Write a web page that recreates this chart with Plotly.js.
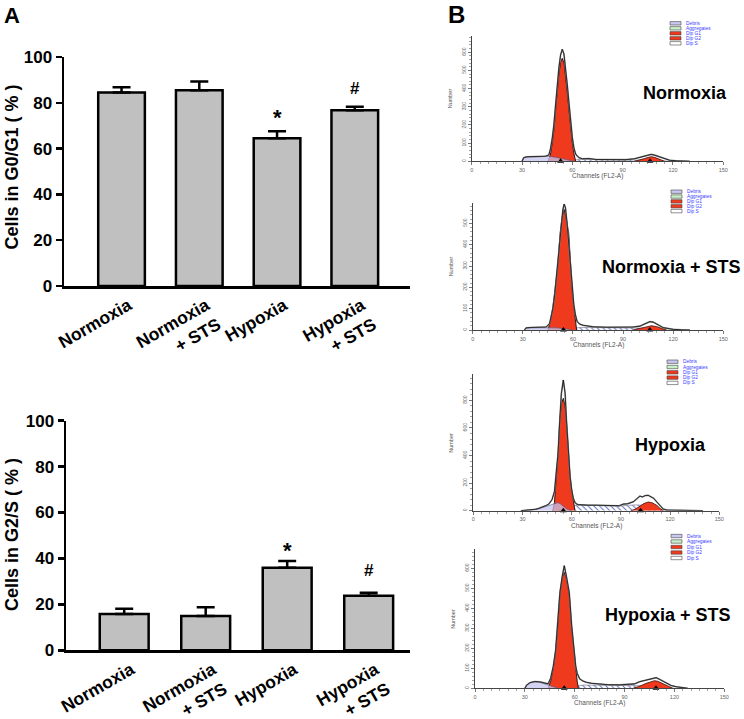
<!DOCTYPE html>
<html><head><meta charset="utf-8">
<script src="https://cdn.plot.ly/plotly-3.0.1.min.js"></script>
<style>html,body{margin:0;padding:0;background:#fff}#chart{width:744px;height:719px}</style>
</head><body><div id="chart"></div>
<script>
// ---------- Panel A data ----------
const categories = ['Normoxia', 'Normoxia<br>+ STS', 'Hypoxia', 'Hypoxia<br>+ STS'];
const g0g1Mean = [84.5, 85.5, 64.5, 76.8];
const g0g1Err  = [2.3, 3.8, 3.1, 1.5];
const g0g1Mark = ['', '', '*', '#'];
const g2sMean  = [15.8, 14.9, 36.0, 23.8];
const g2sErr   = [2.3, 3.8, 2.9, 1.3];
const g2sMark  = ['', '', '*', '#'];

// ---------- Panel B data (channel, count) ----------
const histTitles = ['Normoxia', 'Normoxia + STS', 'Hypoxia', 'Hypoxia + STS'];
const legendLabels = ['Debris', 'Aggregates', 'Dip G1', 'Dip G2', 'Dip S'];

// Normoxia
const n_totX = [30,31,33,36,40,44,46,47,48,49,50,51,52,53,54,55,56,57,58,59,60,61,62,63,64,66,70,74,80,86,92,97,100,103,105,107,109,111,113,115,118,122,126,130];
const n_totY = [0,20,25,26,27,28,35,70,125,200,310,420,515,585,616,590,515,420,320,215,130,70,40,28,20,14,15,10,9,8,9,14,20,28,34,38,34,28,20,12,6,3,1,0];
const n_g1X = [45.5,47,48,49,50,51,52,53,54,55,56,57,58,59,60,61,62];
const n_g1Y = [0,40,100,170,282,390,480,545,567,545,470,380,282,180,100,40,0];
const n_g2X = [97,100,103,105,107,109,111,113,115];
const n_g2Y = [0,6,15,21,25,22,15,7,0];
const n_debX = [30,31,32,35,40,44,46,50,54,58,61];
const n_debY = [0,18,24,25,26,27,27,22,15,7,0];
const n_sX = [58,62,66,70,80,90,97,102,106,110,114,118];
const n_sY = [0,8,10,10,9,8,8,7,6,5,3,0];
const n_peaks = [53, 106.3];

// Normoxia + STS
const ns_totX = [31,32,35,40,44,46,47,48,49,50,51,52,53,54,54.7,55.5,56.5,57.5,58.5,59.5,60.5,61.5,62.5,64,66,68,72,80,90,96,100,103,106,108,110,112,114,117,120,125,130];
const ns_totY = [0,10,12,13,14,30,60,100,160,240,330,420,500,565,590,575,500,400,300,200,120,70,40,28,22,20,15,13,12,14,18,28,39,37,30,20,11,6,3,1,0];
const ns_g1X = [45,46.5,48,49.5,50.7,52.3,53.5,54.7,55.8,57.5,58.6,59.6,60.6,61.5,62.2];
const ns_g1Y = [0,40,109,200,281,453,530,566,530,453,281,180,109,40,0];
const ns_g2X = [96,100,103,107,110,113,116];
const ns_g2Y = [0,6,14,20,16,8,0];
const ns_debX = [31,32,35,40,45,50,55,60];
const ns_debY = [0,9,11,11,12,10,6,0];
const ns_sX = [60,62,66,70,80,90,98,104,110,116];
const ns_sY = [0,10,12,12,11,10,9,8,5,0];
const ns_peaks = [54.3, 106];

// Hypoxia
const h_totX = [29,32,35,38,40,42,44,46,48,49.5,50.5,51.7,52.7,53.7,54.9,56,56.8,57.9,59,60,61,62,63,64,66,70,75,80,85,89,91.5,94,97.6,100,101.6,103,105,106.7,108.7,110,111.8,114,115.8,118,122,128,135,140];
const h_totY = [0,3,6,10,17,25,35,48,80,140,250,420,650,850,948,850,660,420,250,150,90,60,48,44,42,40,40,38,38,36,48,50,65,90,106,100,110,111,101,90,65,35,12,5,3,2,1,0];
const h_g1X = [48.4,49.5,50,51,51.7,52.7,53.8,54.9,56,56.7,57.9,59,60,61,62];
const h_g1Y = [0,60,150,300,410,658,780,815,760,658,410,250,150,60,0];
const h_g2X = [96,98.6,101,104,106.7,109,112,114,116];
const h_g2Y = [0,10,28,52,63,58,38,15,0];
const h_debX = [29,35,40,45.5,48,50,51.5,53,55,57,60];
const h_debY = [0,5,15,34,45,54,58,50,30,12,0];
const h_sX = [52,56,60,63,65,70,80,89,95,100,104,108,112,116,120];
const h_sY = [0,15,30,40,41,40,37,34,40,42,38,30,18,6,0];
const h_peaks = [54.9, 102];

// Hypoxia + STS
const hs_totX = [30,31,33,36,39,42,44,45.5,47.1,48.5,49.7,51.1,52.5,53.7,55,56.7,58.2,59.5,60.6,61.5,63,65,67,70,75,80,87,92,96,99,102,105,107,109,111,113,115,118,121,125,128];
const hs_totY = [0,15,28,34,32,24,22,50,110,190,310,480,560,613,560,480,310,190,110,75,47,36,30,25,20,18,17,18,22,33,40,47,50,53,45,35,25,14,8,3,0];
const hs_g1X = [44,45.5,47.1,48.5,49.7,51.1,52.5,53.7,55,56.7,58.2,59.5,60.6,61.5,62.2];
const hs_g1Y = [0,35,100,185,300,467,555,580,550,467,300,180,100,35,0];
const hs_g2X = [95,99,103,106,108,110,113,116,119];
const hs_g2Y = [0,10,25,35,38,35,25,12,0];
const hs_debX = [30,31,33,36,39,42,44,47,50];
const hs_debY = [0,15,28,33,30,22,15,6,0];
const hs_sX = [58,62,66,70,80,90,96,100,105,110,115,120];
const hs_sY = [0,14,16,16,15,14,14,13,12,9,5,0];
const hs_peaks = [53.7, 108.9];

// ---------- helpers ----------
const W = 744, H = 719;
const PX = x => x / W;
const PY = y => 1 - y / H;
const F = 'Liberation Sans, Arial, Helvetica, sans-serif';
const RED = '#f03a1e';
const DEBRIS = 'rgba(196,196,240,0.75)';

const traces = [];
const annotations = [];
const shapes = [];

function barTraces(xa, ya, mean, err) {
  traces.push({
    type: 'bar', x: categories, y: mean, xaxis: xa, yaxis: ya, width: 0.6,
    marker: {color: '#c0c0c0', line: {color: 'black', width: 2.5}},
    error_y: {type: 'data', symmetric: false, array: err, arrayminus: err.map(() => 0),
              color: 'black', thickness: 2.5, width: 9},
    hoverinfo: 'none', showlegend: false
  });
}
barTraces('x', 'y', g0g1Mean, g0g1Err);
barTraces('x2', 'y2', g2sMean, g2sErr);

function marks(xa, ya, mean, err, mk, shifts) {
  mk.forEach((m, i) => {
    if (!m) return;
    annotations.push({xref: xa, yref: ya, x: categories[i], y: mean[i] + err[i], text: m,
      showarrow: false, xanchor: 'center', yanchor: 'middle', yshift: shifts[i],
      font: {family: F, size: m === '*' ? 22 : 17, color: 'black', weight: 'bold'}});
  });
}
marks('x', 'y', g0g1Mean, g0g1Err, g0g1Mark, [0, 0, 14, 18]);
marks('x2', 'y2', g2sMean, g2sErr, g2sMark, [0, 0, 10, 22]);

const histData = [
  {tx: n_totX, ty: n_totY, g1x: n_g1X, g1y: n_g1Y, g2x: n_g2X, g2y: n_g2Y, dx: n_debX, dy: n_debY, sx: n_sX, sy: n_sY, pk: n_peaks},
  {tx: ns_totX, ty: ns_totY, g1x: ns_g1X, g1y: ns_g1Y, g2x: ns_g2X, g2y: ns_g2Y, dx: ns_debX, dy: ns_debY, sx: ns_sX, sy: ns_sY, pk: ns_peaks},
  {tx: h_totX, ty: h_totY, g1x: h_g1X, g1y: h_g1Y, g2x: h_g2X, g2y: h_g2Y, dx: h_debX, dy: h_debY, sx: h_sX, sy: h_sY, pk: h_peaks},
  {tx: hs_totX, ty: hs_totY, g1x: hs_g1X, g1y: hs_g1Y, g2x: hs_g2X, g2y: hs_g2Y, dx: hs_debX, dy: hs_debY, sx: hs_sX, sy: hs_sY, pk: hs_peaks}
];

// panel geometry (pixels)
const geo = [
  {x0: 471.7, x1: 723.3, yb: 161.3, yt: 35.9, ymax: 690, dt: 100, mn: 20, title: [685, 93], leg: [670, 23.3, 5.0]},
  {x0: 472.7, x1: 723.3, yb: 330.0, yt: 203.3, ymax: 594, dt: 100, mn: 20, title: [671, 267], leg: [671, 191.7, 4.85]},
  {x0: 473.3, x1: 719.3, yb: 510.7, yt: 374.2, ymax: 990, dt: 200, mn: 40, title: [670.5, 445], leg: [667, 361.7, 5.3]},
  {x0: 475.0, x1: 724.3, yb: 688.3, yt: 549.3, ymax: 695, dt: 100, mn: 20, title: [667.5, 615], leg: [671, 536, 5.5]}
];
const legColors = ['#c8c8f0', '#c8f0c8', RED, RED, '#ffffff'];

const catFont = {family: F, size: 17.5, color: 'black', weight: 'bold'};
const numFont = {family: F, size: 17, color: 'black', weight: 'bold'};

const layout = {
  width: W, height: H, margin: {l: 0, r: 0, t: 0, b: 0},
  paper_bgcolor: 'white', plot_bgcolor: 'rgba(0,0,0,0)', showlegend: false,
  font: {family: F, color: 'black'},
  xaxis: {domain: [PX(64), PX(410)], anchor: 'y', range: [-0.74, 3.71], showline: true, linecolor: 'black', linewidth: 2.5,
          ticks: '', tickangle: -30, ticklabelshift: 7, tickfont: catFont, showgrid: false, zeroline: false},
  yaxis: {domain: [PY(286), PY(57)], anchor: 'x', range: [0, 100], dtick: 20, ticks: 'outside', ticklen: 6, tickwidth: 2.5, tickcolor: 'black',
          showline: true, linecolor: 'black', linewidth: 2.5, showgrid: false, zeroline: false, tickfont: numFont},
  xaxis2: {domain: [PX(66), PX(410)], anchor: 'y2', range: [-0.714, 3.507], showline: true, linecolor: 'black', linewidth: 2.5,
          ticks: '', tickangle: -30, ticklabelshift: 7, tickfont: catFont, showgrid: false, zeroline: false},
  yaxis2: {domain: [PY(650.3), PY(420.7)], anchor: 'x2', range: [0, 100], dtick: 20, ticks: 'outside', ticklen: 6, tickwidth: 2.5, tickcolor: 'black',
          showline: true, linecolor: 'black', linewidth: 2.5, showgrid: false, zeroline: false, tickfont: numFont},
  annotations: annotations, shapes: shapes
};

function paperText(x, y, text, font, extra) {
  annotations.push(Object.assign({xref: 'paper', yref: 'paper', x: PX(x), y: PY(y), text: text, showarrow: false,
    xanchor: 'center', yanchor: 'middle', font: font}, extra || {}));
}
paperText(12, 167.5, 'Cells in G0/G1 ( % )', {family: F, size: 18, color: 'black', weight: 'bold'}, {textangle: -90});
paperText(12, 535, 'Cells in G2/S ( % )', {family: F, size: 18, color: 'black', weight: 'bold'}, {textangle: -90});
paperText(12, 16, 'A', {family: F, size: 22, color: 'black', weight: 'bold'});
paperText(456, 15, 'B', {family: F, size: 24, color: 'black', weight: 'bold'});

histData.forEach((d, k) => {
  const n = k + 3, xa = 'x' + n, ya = 'y' + n, g = geo[k];
  layout['xaxis' + n] = {domain: [PX(g.x0), PX(g.x1)], anchor: ya, range: [0, 150], dtick: 30, ticks: 'outside', ticklen: 3, tickwidth: 0.8,
    tickcolor: '#555', showline: true, linecolor: '#444', linewidth: 1, showgrid: false, zeroline: false,
    minor: {dtick: 5, ticks: 'outside', ticklen: 2, tickcolor: '#666', tickwidth: 0.6},
    tickfont: {family: F, size: 5.5, color: '#666'}};
  layout['yaxis' + n] = {domain: [PY(g.yb), PY(g.yt)], anchor: xa, range: [0, g.ymax], dtick: g.dt, ticks: 'outside', ticklen: 3, tickwidth: 0.8,
    tickcolor: '#555', showline: true, linecolor: '#444', linewidth: 1, showgrid: false, zeroline: false, tickangle: -90,
    minor: {dtick: g.mn, ticks: 'outside', ticklen: 2, tickcolor: '#666', tickwidth: 0.6},
    tickfont: {family: F, size: 5, color: '#666'}};

  traces.push({x: d.sx, y: d.sy, xaxis: xa, yaxis: ya, mode: 'lines', fill: 'tozeroy', line: {color: '#6a6a8a', width: 0.6},
    fillpattern: {shape: '\\', fgcolor: '#6070b8', bgcolor: 'white', size: 4, solidity: 0.25}, hoverinfo: 'none', showlegend: false});
  traces.push({x: d.g2x, y: d.g2y, xaxis: xa, yaxis: ya, mode: 'lines', fill: 'tozeroy', fillcolor: RED, line: {color: '#3a1010', width: 0.8},
    hoverinfo: 'none', showlegend: false});
  traces.push({x: d.g1x, y: d.g1y, xaxis: xa, yaxis: ya, mode: 'lines', fill: 'tozeroy', fillcolor: RED, line: {color: '#1a0a0a', width: 0.9},
    hoverinfo: 'none', showlegend: false});
  traces.push({x: d.dx, y: d.dy, xaxis: xa, yaxis: ya, mode: 'lines', fill: 'tozeroy', fillcolor: DEBRIS, line: {color: '#55557a', width: 0.6},
    hoverinfo: 'none', showlegend: false});
  traces.push({x: d.tx, y: d.ty, xaxis: xa, yaxis: ya, mode: 'lines', line: {color: '#888', width: 1.6}, hoverinfo: 'none', showlegend: false});
  traces.push({x: d.tx, y: d.ty, xaxis: xa, yaxis: ya, mode: 'lines', line: {color: '#111', width: 0.8}, hoverinfo: 'none', showlegend: false});
  traces.push({x: d.pk, y: d.pk.map(() => 0), xaxis: xa, yaxis: ya, mode: 'markers', cliponaxis: false,
    marker: {symbol: 'triangle-up', size: 6, color: 'black'}, hoverinfo: 'none', showlegend: false});

  annotations.push({xref: xa + ' domain', yref: ya + ' domain', x: 0.5, y: 0, yshift: -15, xanchor: 'center', yanchor: 'middle',
    text: 'Channels (FL2-A)', showarrow: false, font: {family: F, size: 6.5, color: '#555'}});
  annotations.push({xref: xa + ' domain', yref: ya + ' domain', x: 0, y: 0.5, xshift: -22, xanchor: 'center', yanchor: 'middle',
    text: 'Number', textangle: -90, showarrow: false, font: {family: F, size: 5.5, color: '#555'}});
  paperText(g.title[0], g.title[1], histTitles[k], {family: F, size: 18, color: 'black', weight: 'bold'});

  const [lx, ly, dy] = g.leg;
  legendLabels.forEach((lab, i) => {
    const cy = ly + dy * i;
    shapes.push({type: 'rect', xref: 'paper', yref: 'paper', x0: PX(lx), x1: PX(lx + 11), y0: PY(cy + 1.7), y1: PY(cy - 1.7),
      fillcolor: legColors[i], line: {color: '#444', width: 0.6}});
    annotations.push({xref: 'paper', yref: 'paper', x: PX(lx + 14), y: PY(cy), xanchor: 'left', yanchor: 'middle', text: lab, showarrow: false,
      font: {family: F, size: 4.8, color: '#3b3bff'}});
  });
});

Plotly.newPlot('chart', traces, layout, {displayModeBar: false, staticPlot: true});
</script></body></html>
